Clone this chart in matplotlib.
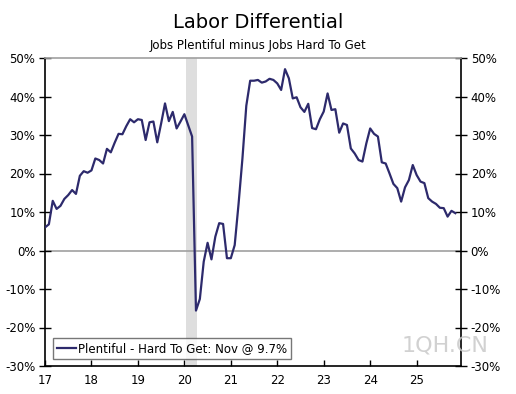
import matplotlib
matplotlib.use("Agg")
import matplotlib.pyplot as plt
from matplotlib.ticker import MultipleLocator, FuncFormatter

# monthly labor differential (jobs plentiful minus jobs hard to get), Jan 2017 - Nov 2025
y2017 = [6.0, 6.8, 12.9, 10.8, 11.6, 13.4, 14.4, 15.7, 14.7, 19.4, 20.6, 20.2]
y2018 = [20.8, 23.9, 23.5, 22.6, 26.4, 25.5, 28.0, 30.3, 30.2, 32.3, 34.1, 33.3]
y2019 = [34.1, 33.9, 28.7, 33.3, 33.5, 28.1, 33.0, 38.2, 33.6, 36.0, 31.7, 33.5]
y2020 = [35.4, 32.5, 29.6, -15.6, -12.6, -2.9, 2.0, -2.3, 3.6, 7.1, 6.9, -2.0]
y2021 = [-2.0, 1.4, 12.1, 23.9, 37.6, 44.1, 44.1, 44.3, 43.6, 43.9, 44.6, 44.3]
y2022 = [43.4, 41.7, 47.1, 44.7, 39.5, 39.8, 37.2, 36.0, 38.1, 31.8, 31.5, 34.1]
y2023 = [36.1, 40.8, 36.5, 36.7, 30.6, 33.0, 32.6, 26.5, 25.2, 23.5, 23.1, 27.8]
y2024 = [31.7, 30.3, 29.6, 22.9, 22.6, 20.0, 17.3, 16.2, 12.7, 16.4, 18.3, 22.2]
y2025 = [19.6, 17.9, 17.5, 13.6, 12.7, 12.1, 11.1, 11.0, 8.8, 10.3, 9.7]

values = y2017 + y2018 + y2019 + y2020 + y2021 + y2022 + y2023 + y2024 + y2025
dates = [2017 + i / 12 for i in range(len(values))]

recession = (2020.04, 2020.28)
year_ticks = list(range(2017, 2026))
year_labels = [str(y - 2000) for y in year_ticks]
legend_label = "Plentiful - Hard To Get: Nov @ 9.7%"

line_color = "#2d2a6c"

fig = plt.figure(figsize=(5.16, 3.94), dpi=100)
ax = fig.add_axes([45 / 516, 1 - 366 / 394, 416 / 516, 308 / 394])

ax.axvspan(recession[0], recession[1], color="#dedede", lw=0, zorder=0)
ax.axhline(0, color="#a0a0a0", lw=1.2, zorder=1)
ax.plot(dates, values, color=line_color, lw=1.6, label=legend_label, zorder=3)

ax.set_xlim(2017, 2017 + 8.955)
ax.set_ylim(-30, 50)
ax.yaxis.set_major_locator(MultipleLocator(10))
ax.yaxis.set_major_formatter(FuncFormatter(lambda v, p: "%d%%" % v))
ax.set_xticks(year_ticks)
ax.set_xticklabels(year_labels)

ax.tick_params(axis="y", direction="inout", length=8, width=1, labelsize=8.5,
               left=True, right=True, labelleft=True, labelright=True, pad=3)
ax.tick_params(axis="x", direction="in", length=4, width=1, labelsize=8.5, pad=6)

for side in ["left", "right", "bottom"]:
    ax.spines[side].set_color("black")
    ax.spines[side].set_linewidth(1.2)
ax.spines["top"].set_color("#a0a0a0")
ax.spines["top"].set_linewidth(1.2)

leg = ax.legend(loc="lower left", bbox_to_anchor=(7.5 / 416, 7 / 308), fontsize=8.5,
                frameon=True, fancybox=False, handlelength=1.6, handletextpad=0.2,
                borderpad=0.35, borderaxespad=0)
leg.get_frame().set_edgecolor("#555555")
leg.get_frame().set_linewidth(1)

fig.text(0.5, 1 - 22 / 394, "Labor Differential", ha="center", va="center", fontsize=14)
fig.text(0.5, 1 - 45 / 394, "Jobs Plentiful minus Jobs Hard To Get", ha="center", va="center",
         fontsize=8.5)

# faint watermark in the lower right corner
fig.text(445 / 516, 1 - 346 / 394, "1QH.CN", ha="center", va="center", fontsize=16,
         color="#c9c9c9", alpha=0.85, zorder=10)

fig.savefig("out.png", dpi=100)
